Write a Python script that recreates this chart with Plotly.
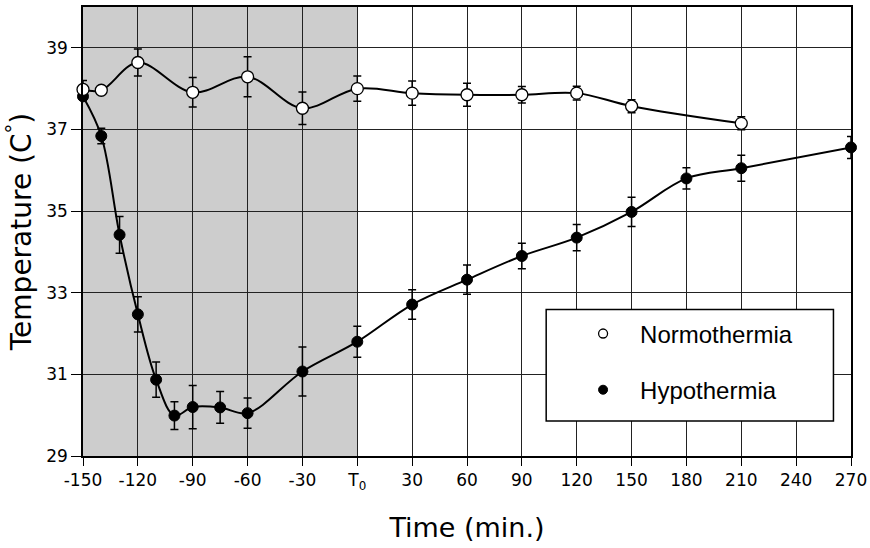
import plotly.graph_objects as go

# ---- data ----
time_norm = [-150, -140, -120, -90, -60, -30, 0, 30, 60, 90, 120, 150, 210]
temp_norm = [37.98, 37.96, 38.64, 37.91, 38.29, 37.52, 38.00, 37.89, 37.85, 37.85, 37.89, 37.57, 37.15]
err_norm = [0.22, 0.08, 0.33, 0.36, 0.49, 0.40, 0.31, 0.30, 0.28, 0.20, 0.17, 0.16, 0.16]

time_hypo = [-150, -140, -130, -120, -110, -100, -90, -75, -60, -30, 0, 30, 60, 90, 120, 150, 180, 210, 270]
temp_hypo = [37.81, 36.84, 34.42, 32.47, 30.87, 29.99, 30.20, 30.19, 30.05, 31.07, 31.80, 32.71, 33.32,
             33.90, 34.35, 34.98, 35.80, 36.05, 36.56]
err_hypo = [0.10, 0.19, 0.45, 0.43, 0.43, 0.34, 0.53, 0.39, 0.37, 0.60, 0.38, 0.36, 0.36, 0.31, 0.32,
            0.36, 0.26, 0.32, 0.27]

tick_vals = [-150, -120, -90, -60, -30, 0, 30, 60, 90, 120, 150, 180, 210, 240, 270]
tick_text = ["-150", "-120", "-90", "-60", "-30", "T<sub>0</sub>", "30", "60", "90", "120", "150",
             "180", "210", "240", "270"]
y_ticks = [29, 31, 33, 35, 37, 39]

fig = go.Figure()

# data traces (legend shown through marker-only entries below)
fig.add_trace(go.Scatter(
    x=time_hypo, y=temp_hypo, name="Hypothermia", mode="lines+markers", showlegend=False,
    line=dict(color="black", width=2, shape="spline", smoothing=1),
    marker=dict(symbol="circle", size=11, color="black", line=dict(color="black", width=1)),
    error_y=dict(type="data", array=err_hypo, visible=True, color="black", thickness=1.5, width=4),
    cliponaxis=False,
))
fig.add_trace(go.Scatter(
    x=time_norm, y=temp_norm, name="Normothermia", mode="lines+markers", showlegend=False,
    line=dict(color="black", width=2, shape="spline", smoothing=1),
    marker=dict(symbol="circle", size=12, color="white", line=dict(color="black", width=1.3)),
    error_y=dict(type="data", array=err_norm, visible=True, color="black", thickness=1.5, width=4),
    cliponaxis=False,
))

# legend entries (marker only, as in the reference)
fig.add_trace(go.Scatter(
    x=[None], y=[None], name="Normothermia", mode="markers", legendgroup="n", legendrank=1,
    marker=dict(symbol="circle", size=9, color="white", line=dict(color="black", width=1.3)),
))
fig.add_trace(go.Scatter(
    x=[None], y=[None], name="Hypothermia", mode="markers", legendgroup="h", legendrank=2,
    marker=dict(symbol="circle", size=9, color="black", line=dict(color="black", width=1)),
))

fig.update_layout(
    width=870, height=548,
    margin=dict(l=83, r=19, t=7, b=92, autoexpand=False),
    paper_bgcolor="white", plot_bgcolor="white",
    font=dict(family="DejaVu Sans", color="black", size=17),
    shapes=[
        dict(type="rect", xref="x", yref="paper", x0=-150, x1=0, y0=0, y1=1,
             fillcolor="#cdcdcd", line=dict(width=0), layer="below"),
        dict(type="rect", xref="x", yref="y", x0=103.3, x1=260.4, y0=29.86, y1=32.59,
             fillcolor="white", line=dict(color="black", width=1.5), layer="between"),
    ],
    legend=dict(
        x=0.629, y=0.322, xanchor="left", yanchor="top",
        bgcolor="rgba(0,0,0,0)", borderwidth=0,
        font=dict(family="Liberation Sans", size=24, color="black"),
        traceorder="grouped", tracegroupgap=22, itemwidth=64,
        itemclick=False,
    ),
    xaxis=dict(
        range=[-150, 270], tickmode="array", tickvals=tick_vals, ticktext=tick_text,
        showgrid=True, gridcolor="#222222", gridwidth=1,
        showline=True, linecolor="black", linewidth=2, mirror=True,
        ticks="outside", ticklen=8, tickcolor="black", tickwidth=1,
        tickfont=dict(family="DejaVu Sans", size=17),
        title=dict(text="Time (min.)", font=dict(family="DejaVu Sans", size=27), standoff=26),
        zeroline=False, automargin=False,
    ),
    yaxis=dict(
        range=[29, 40], tickmode="array", tickvals=y_ticks,
        showgrid=True, gridcolor="#222222", gridwidth=1,
        showline=True, linecolor="black", linewidth=1.5, mirror=True,
        ticks="outside", ticklen=10, tickcolor="black", tickwidth=1,
        tickfont=dict(family="DejaVu Sans", size=17),
        title=dict(text="Temperature (C<sup>°</sup>)", font=dict(family="DejaVu Sans", size=28), standoff=6),
        zeroline=False, automargin=False,
    ),
)

fig.write_html("out.html", config={"displayModeBar": False},
               post_script="document.body.style.margin='0px';")
